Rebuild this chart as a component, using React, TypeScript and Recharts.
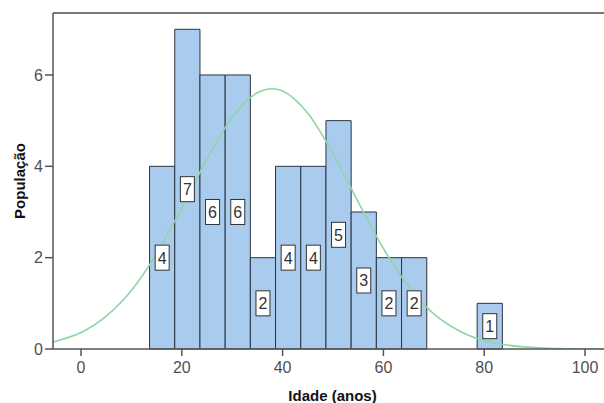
import React from "react";
import {
  ComposedChart,
  XAxis,
  YAxis,
  Line,
  ReferenceArea,
  ReferenceDot,
  ReferenceLine,
  Label,
} from "recharts";

// Histogram bins (age, years)
const binStart = [13.6, 18.6, 23.6, 28.6, 33.6, 38.6, 43.6, 48.6, 53.6, 58.6, 63.6, 78.6];
const binEnd = [18.6, 23.6, 28.6, 33.6, 38.6, 43.6, 48.6, 53.6, 58.6, 63.6, 68.6, 83.6];
const counts = [4, 7, 6, 6, 2, 4, 4, 5, 3, 2, 2, 1];

// Normal curve
const curveX = [-5.6, -5, 0, 5, 10, 15, 20, 25, 30, 35, 38, 40, 45, 50, 55, 60, 65, 70, 75, 80, 85, 90, 95, 100, 104];
const curveY = [0.15, 0.17, 0.36, 0.72, 1.28, 2.09, 3.09, 4.16, 5.07, 5.61, 5.7, 5.65, 5.16, 4.28, 3.22, 2.2, 1.37, 0.77, 0.4, 0.18, 0.08, 0.03, 0.01, 0.0, 0.0];

const xTicks = [0, 20, 40, 60, 80, 100];
const yTicks = [0, 2, 4, 6];

const xTitle = "Idade (anos)";
const yTitle = "População";

const curveData = curveX.map((x, i) => ({ x, y: curveY[i] }));

const FONT = "'Liberation Sans', Arial, sans-serif";
const AXIS = "#555";

const BoxLabel = (value: number) => (props: any) => {
  const { cx, cy } = props;
  return (
    <g>
      <rect x={cx - 7} y={cy - 12.5} width={14} height={25} fill="#fff" stroke="#333" strokeWidth={1} />
      <text x={cx} y={cy + 6} textAnchor="middle" fontFamily={FONT} fontSize={16} fill="#333">
        {value}
      </text>
    </g>
  );
};

export default function App() {
  return (
    <div style={{ position: "absolute", left: 0, top: 0, background: "#fff" }}>
      <ComposedChart
        width={604}
        height={403}
        data={curveData}
        margin={{ top: 13, right: 0, left: 0, bottom: 0 }}
      >
        <XAxis
          type="number"
          dataKey="x"
          domain={[-5.56, 103.77]}
          allowDataOverflow
          ticks={xTicks}
          height={54}
          tickSize={7}
          tickMargin={6}
          stroke={AXIS}
          tick={{ fill: "#505050", fontSize: 16, fontFamily: FONT }}
          axisLine={{ stroke: AXIS, strokeWidth: 1.5 }}
          tickLine={{ stroke: AXIS, strokeWidth: 1.5 }}
        >
          <Label
            content={(p: any) => {
              const vb = p.viewBox;
              return (
                <text
                  x={vb.x + vb.width / 2 + 4}
                  y={401}
                  textAnchor="middle"
                  fontFamily={FONT}
                  fontWeight="bold"
                  fontSize={15}
                  fill="#111"
                >
                  {xTitle}
                </text>
              );
            }}
          />
        </XAxis>
        <YAxis
          type="number"
          domain={[0, 7.357]}
          allowDataOverflow
          ticks={yTicks}
          width={53}
          tickSize={8}
          tickMargin={2}
          stroke={AXIS}
          tick={{ fill: "#505050", fontSize: 16, fontFamily: FONT }}
          axisLine={{ stroke: AXIS, strokeWidth: 1.5 }}
          tickLine={{ stroke: AXIS, strokeWidth: 1.5 }}
        >
          <Label
            content={(p: any) => {
              const vb = p.viewBox;
              const cx = 19;
              const cy = vb.y + vb.height / 2;
              return (
                <text
                  x={cx}
                  y={cy}
                  textAnchor="middle"
                  dominantBaseline="central"
                  transform={`rotate(-90, ${cx}, ${cy})`}
                  fontFamily={FONT}
                  fontWeight="bold"
                  fontSize={15}
                  fill="#111"
                >
                  {yTitle}
                </text>
              );
            }}
          />
        </YAxis>
        <ReferenceLine y={7.357} stroke="#777" strokeWidth={2} ifOverflow="extendDomain" />
        {binStart.map((s, i) => (
          <ReferenceArea
            key={"bar" + i}
            x1={s}
            x2={binEnd[i]}
            y1={0}
            y2={counts[i]}
            fill="#a9cbed"
            fillOpacity={1}
            stroke="#2b3440"
            strokeWidth={1}
          />
        ))}
        <Line
          type="monotone"
          dataKey="y"
          stroke="#8fd6a2"
          strokeWidth={1.6}
          dot={false}
          isAnimationActive={false}
        />
        {binStart.map((s, i) => (
          <ReferenceDot
            key={"lbl" + i}
            x={(s + binEnd[i]) / 2}
            y={counts[i] / 2}
            r={1}
            shape={BoxLabel(counts[i])}
          />
        ))}
      </ComposedChart>
    </div>
  );
}
